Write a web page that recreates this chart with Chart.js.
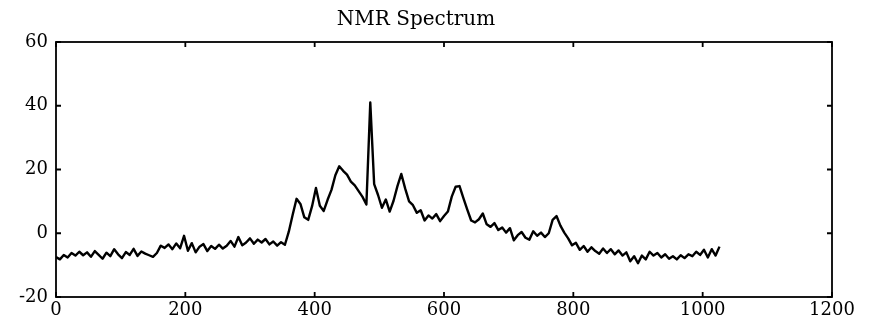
<!DOCTYPE html>
<html>
<head>
<meta charset="utf-8">
<script src="https://cdn.jsdelivr.net/npm/chart.js@4"></script>
<style>
  body { margin: 0; background: #fff; }
  canvas { display: block; }
</style>
</head>
<body>
<canvas id="nmr" width="871" height="326" aria-label="NMR Spectrum"></canvas>
<script>
// channel spacing of the sampled spectrum
const sampleStep = 6;

// intensity, one value per channel step (0 .. 1026)
const intensity = [
  -7.5, -8.2, -6.8, -7.6, -6.2, -7.0, -5.8, -6.9, -6.0, -7.4,
  -5.6, -6.8, -8.0, -6.1, -7.2, -5.0, -6.6, -7.8, -5.9, -6.8,
  -4.9, -7.1, -5.7, -6.4, -6.9, -7.4, -6.2, -3.9, -4.6, -3.5,
  -5.0, -3.2, -4.7, -0.8, -5.5, -3.1, -6.0, -4.2, -3.4, -5.6,
  -4.0, -4.9, -3.6, -4.8, -3.9, -2.4, -4.2, -1.2, -3.8, -2.9,
  -1.6, -3.3, -2.0, -2.9, -1.8, -3.5, -2.6, -3.9, -2.8, -3.6,
  0.5, 5.8, 10.8, 9.2, 5.0, 4.2, 8.5, 14.2, 8.6, 7.0,
  10.5, 13.6, 18.2, 21.0, 19.6, 18.4, 16.2, 15.0, 13.2, 11.4,
  9.0, 41.0, 15.4, 12.0, 8.0, 10.6, 6.8, 10.2, 14.8, 18.6,
  14.0, 10.0, 8.8, 6.4, 7.2, 4.0, 5.6, 4.6, 6.0, 3.8,
  5.4, 6.8, 11.5, 14.6, 14.8, 11.0, 7.4, 4.0, 3.4, 4.4,
  6.2, 2.8, 2.0, 3.2, 1.0, 1.8, 0.2, 1.6, -2.2, -0.6,
  0.4, -1.4, -2.0, 0.6, -0.8, 0.2, -1.2, 0.0, 4.2, 5.4,
  2.4, 0.2, -1.6, -3.8, -3.0, -5.2, -4.0, -5.8, -4.4, -5.6,
  -6.4, -4.8, -6.2, -5.0, -6.6, -5.4, -7.0, -6.0, -8.8, -7.2,
  -9.4, -7.0, -8.2, -5.8, -7.0, -6.2, -7.6, -6.6, -8.0, -7.2,
  -8.2, -6.9, -7.8, -6.6, -7.2, -5.8, -6.8, -5.2, -7.6, -5.0,
  -7.0, -4.2
];
const channels = intensity.map((_, i) => i * sampleStep);

const xTicks = [0, 200, 400, 600, 800, 1000, 1200];
const yTicks = [-20, 0, 20, 40, 60];

const fontFamily = "'DejaVu Serif', serif";

/* boxed frame with inward tick marks on all four sides */
const frameTicks = {
  id: 'frameTicks',
  afterDraw(chart) {
    const {ctx, chartArea: a, scales: {x, y}} = chart;
    const len = 5;
    ctx.save();
    ctx.strokeStyle = '#000';
    ctx.lineWidth = 1.8;
    ctx.strokeRect(a.left, a.top, a.right - a.left, a.bottom - a.top);
    ctx.beginPath();
    xTicks.forEach(v => {
      const px = x.getPixelForValue(v);
      ctx.moveTo(px, a.bottom); ctx.lineTo(px, a.bottom - len);
      ctx.moveTo(px, a.top); ctx.lineTo(px, a.top + len);
    });
    yTicks.forEach(v => {
      const py = y.getPixelForValue(v);
      ctx.moveTo(a.left, py); ctx.lineTo(a.left + len, py);
      ctx.moveTo(a.right, py); ctx.lineTo(a.right - len, py);
    });
    ctx.stroke();
    ctx.restore();
  }
};

new Chart(document.getElementById('nmr'), {
  type: 'line',
  data: {
    datasets: [{
      data: channels.map((c, i) => ({x: c, y: intensity[i]})),
      borderColor: '#000',
      borderWidth: 2.4,
      borderJoinStyle: 'round',
      pointRadius: 0,
      tension: 0,
      fill: false
    }]
  },
  options: {
    responsive: false,
    animation: false,
    layout: {
      padding: {top: 0, left: 0, right: 39, bottom: 0}
    },
    plugins: {
      legend: {display: false},
      tooltip: {enabled: false},
      title: {
        display: true,
        text: 'NMR Spectrum',
        color: '#000',
        font: {family: fontFamily, size: 20, weight: 'normal'},
        padding: {top: 8, bottom: 10}
      }
    },
    scales: {
      x: {
        type: 'linear',
        min: 0,
        max: 1200,
        afterFit: (scale) => { scale.height = 29; },
        afterBuildTicks: (scale) => { scale.ticks = xTicks.map(v => ({value: v})); },
        grid: {display: false, drawTicks: false},
        border: {display: false},
        ticks: {
          color: '#000',
          font: {family: fontFamily, size: 18},
          padding: 3,
          maxRotation: 0,
          autoSkip: false,
          callback: (v) => String(v)
        }
      },
      y: {
        min: -20,
        max: 60,
        afterFit: (scale) => { scale.width = 56; },
        afterBuildTicks: (scale) => { scale.ticks = yTicks.map(v => ({value: v})); },
        grid: {display: false, drawTicks: false},
        border: {display: false},
        ticks: {
          color: '#000',
          font: {family: fontFamily, size: 18},
          padding: 8,
          callback: (v) => String(v)
        }
      }
    }
  },
  plugins: [frameTicks]
});
</script>
</body>
</html>
